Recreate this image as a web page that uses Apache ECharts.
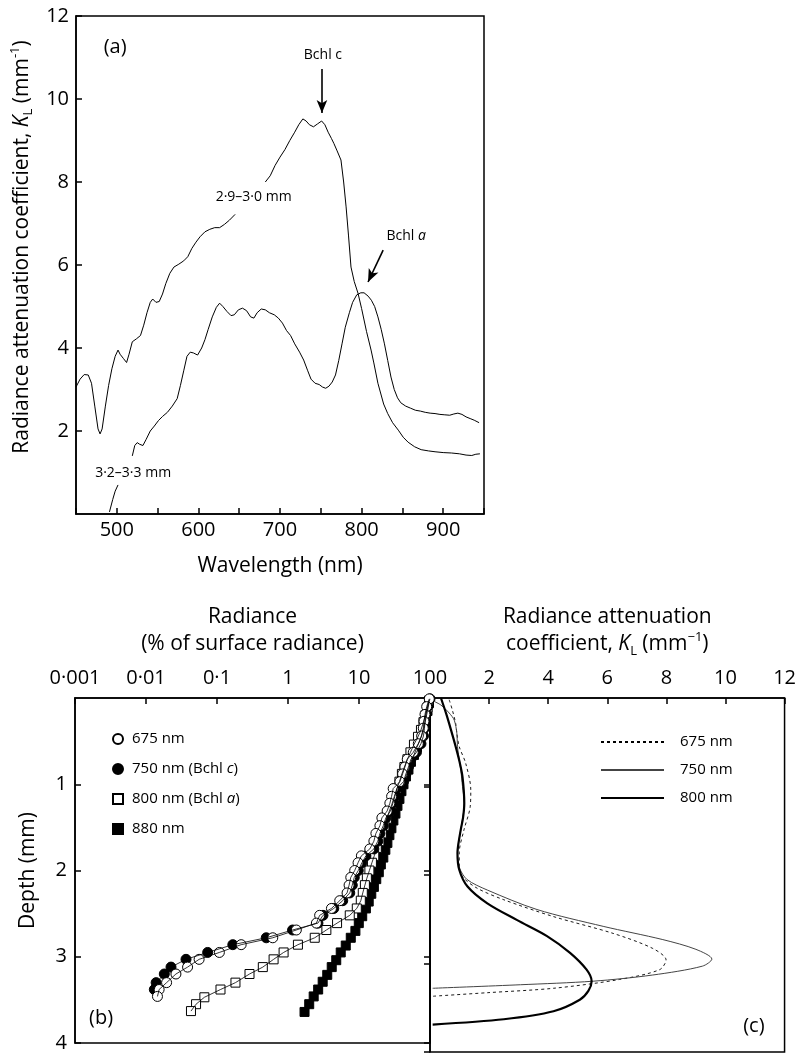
<!DOCTYPE html>
<html>
<head>
<meta charset="utf-8">
<script src="https://cdn.jsdelivr.net/npm/echarts@6.0.0/dist/echarts.min.js"></script>
<style>
  html, body { margin: 0; padding: 0; background: #fff; }
  #chart { width: 799px; height: 1053px; }
</style>
</head>
<body>
<div id="chart"></div>
<script>
// ---- panel (a): attenuation spectra ----
const wl29 = [450, 455, 460, 465, 469, 473, 477, 479.5, 482, 486, 490, 494, 498, 501.5, 504, 508, 512, 515, 519, 524, 529, 533, 537, 541, 544, 548, 552, 556, 560, 565, 570, 576, 582, 587, 592, 597, 602, 608, 614, 620, 626, 632, 638, 645, 660, 682, 688, 694, 700, 706, 712, 718, 723, 728, 732, 736, 741, 746, 751, 755, 759, 763, 766, 770, 774.7, 778, 781, 784, 787, 791, 795.6, 800, 806, 811.6, 815, 820, 827, 832, 838, 845, 851, 857, 865, 873, 882, 890, 900, 910, 920, 928, 935, 940, 945]
const kl29 = [3.06, 3.25, 3.36, 3.35, 3.15, 2.6, 2.05, 1.93, 2.05, 2.6, 3.1, 3.5, 3.8, 3.95, 3.85, 3.75, 3.65, 3.85, 4.15, 4.22, 4.3, 4.55, 4.85, 5.1, 5.18, 5.1, 5.12, 5.3, 5.55, 5.8, 5.95, 6.02, 6.1, 6.2, 6.4, 6.55, 6.68, 6.8, 6.86, 6.9, 6.9, 6.98, 7.08, 7.22, null, 8.0, 8.15, 8.4, 8.6, 8.78, 9.0, 9.2, 9.38, 9.52, 9.47, 9.38, 9.33, 9.4, 9.47, 9.38, 9.2, 9.05, 8.93, 8.75, 8.53, 8.0, 7.4, 6.7, 5.95, 5.6, 5.32, 4.95, 4.4, 3.95, 3.64, 3.15, 2.65, 2.42, 2.2, 2.02, 1.85, 1.73, 1.62, 1.55, 1.52, 1.5, 1.48, 1.47, 1.45, 1.42, 1.41, 1.44, 1.45]

const wl32 = [491, 495, 498, 501.5, 510, 519, 522, 525, 528, 532, 536, 541, 546, 551, 556, 562, 568, 574, 578, 582, 586, 590, 594, 599, 604, 608, 612, 617, 622, 626, 630, 635, 640, 644, 649, 654, 659, 664, 668, 672, 677, 682, 687, 693, 698, 703, 708, 713, 718, 724, 729, 734, 738, 743, 748, 752, 756, 760, 764, 768, 772, 776, 780, 785, 789, 794, 799, 803, 808, 812, 816, 820, 824, 828, 832, 836, 840, 844, 848, 854, 860, 866, 872, 878, 884, 890, 896, 902, 908, 913, 918, 923, 928, 933, 938, 944]
const kl32 = [0.05, 0.35, 0.55, 0.7, null, 1.4, 1.65, 1.72, 1.68, 1.65, 1.8, 2.0, 2.12, 2.25, 2.35, 2.45, 2.6, 2.78, 3.1, 3.45, 3.8, 3.9, 3.88, 3.83, 4.0, 4.2, 4.45, 4.75, 4.98, 5.08, 5.0, 4.88, 4.78, 4.8, 4.92, 4.96, 4.9, 4.75, 4.72, 4.85, 4.94, 4.92, 4.85, 4.8, 4.72, 4.6, 4.42, 4.3, 4.1, 3.9, 3.71, 3.45, 3.25, 3.15, 3.12, 3.06, 3.03, 3.08, 3.18, 3.35, 3.7, 4.1, 4.5, 4.85, 5.1, 5.28, 5.33, 5.33, 5.25, 5.15, 5.0, 4.75, 4.45, 4.1, 3.7, 3.3, 3.0, 2.8, 2.68, 2.6, 2.55, 2.5, 2.48, 2.45, 2.43, 2.42, 2.4, 2.39, 2.38, 2.41, 2.43, 2.4, 2.34, 2.3, 2.26, 2.2]

// ---- panel (b): radiance (% of surface) vs depth (mm) ----
const depth675 = [0.01, 0.10, 0.19, 0.27, 0.35, 0.44, 0.53, 0.63, 0.71, 0.80, 0.88, 0.97, 1.05, 1.14, 1.22, 1.31, 1.39, 1.48, 1.57, 1.66, 1.75, 1.83, 1.91, 2.00, 2.08, 2.17, 2.26, 2.35, 2.44, 2.52, 2.61, 2.69, 2.78, 2.86, 2.95, 3.03, 3.12, 3.20, 3.30, 3.38, 3.46]
const rad675 = [97.7, 89.8, 85, 82.3, 80.4, 76.3, 68.4, 58.1, 47.8, 44.3, 41.1, 37.7, 30.3, 28.8, 27.2, 24.9, 21.0, 19.7, 17.3, 16.2, 14.2, 10.8, 9.7, 8.7, 7.66, 7.25, 6.79, 5.35, 4.09, 2.79, 2.51, 1.31, 0.61, 0.219, 0.108, 0.056, 0.0385, 0.0264, 0.0195, 0.0153, 0.0145]
const depth750 = [0.01, 0.10, 0.19, 0.27, 0.35, 0.44, 0.53, 0.63, 0.71, 0.80, 0.88, 0.97, 1.05, 1.14, 1.22, 1.31, 1.39, 1.48, 1.57, 1.66, 1.75, 1.83, 1.91, 2.00, 2.08, 2.17, 2.26, 2.35, 2.44, 2.52, 2.61, 2.69, 2.78, 2.86, 2.95, 3.03, 3.12, 3.20, 3.30, 3.38]
const rad750 = [100, 92.2, 87.9, 85.0, 83.6, 80.9, 74.6, 64.4, 53.9, 49.7, 45.8, 42.3, 34.2, 32.0, 30.0, 27.7, 23.9, 22.0, 19.7, 18.4, 16.2, 12.5, 11.0, 9.77, 8.58, 8.04, 7.41, 5.90, 4.41, 3.11, 2.64, 1.16, 0.494, 0.167, 0.0739, 0.0366, 0.0225, 0.0181, 0.0139, 0.0131]
const depth800 = [0.03, 0.11, 0.20, 0.28, 0.37, 0.45, 0.54, 0.63, 0.71, 0.80, 0.88, 0.97, 1.05, 1.14, 1.23, 1.31, 1.40, 1.48, 1.57, 1.66, 1.74, 1.83, 1.91, 2.00, 2.09, 2.17, 2.26, 2.35, 2.44, 2.52, 2.61, 2.69, 2.78, 2.86, 2.95, 3.03, 3.12, 3.20, 3.30, 3.38, 3.47, 3.55, 3.63]
const rad800 = [96.8, 92.2, 86.3, 80.9, 74.6, 67.7, 59.4, 53.0, 48.1, 43.6, 40.2, 37.1, 34.2, 31.5, 29.1, 26.8, 24.7, 22.8, 21.0, 19.4, 17.8, 16.4, 15.2, 14.0, 12.9, 12.1, 11.3, 10.6, 9.31, 7.41, 4.91, 3.47, 2.38, 1.38, 0.867, 0.627, 0.442, 0.287, 0.182, 0.112, 0.0664, 0.0507, 0.043]
const depth880 = [0.06, 0.15, 0.23, 0.32, 0.40, 0.49, 0.57, 0.66, 0.74, 0.83, 0.91, 1.00, 1.08, 1.17, 1.25, 1.34, 1.42, 1.51, 1.59, 1.68, 1.76, 1.85, 1.93, 2.02, 2.10, 2.19, 2.27, 2.36, 2.44, 2.53, 2.61, 2.70, 2.78, 2.87, 2.95, 3.04, 3.12, 3.21, 3.29, 3.38, 3.46, 3.55, 3.64]
const rad880 = [96.8, 92.2, 87.9, 83.6, 78.3, 72.2, 65.5, 59.4, 53.9, 49.7, 45.8, 42.3, 39.6, 37.1, 34.8, 32.6, 30.5, 28.6, 26.8, 25.1, 23.5, 22.0, 20.3, 19.0, 17.5, 16.2, 14.9, 13.7, 12.5, 11.1, 9.93, 8.9, 7.66, 6.51, 5.53, 4.78, 4.13, 3.57, 3.08, 2.66, 2.30, 1.99, 1.71]
const radTickLabels = ['0·001', '0·01', '0·1', '1', '10', '100']

// ---- panel (c): attenuation coefficient vs depth ----
const kc675 = [0.65, 0.76, 0.87, 0.91, 0.99, 1.21, 1.38, 1.36, 1.15, 0.99, 0.99, 1.10, 1.6, 2.50, 4.18, 6.20, 7.54, 7.99, 7.77, 6.42, 4.18, 1.94, 0.09]
const dc675 = [0.02, 0.14, 0.29, 0.40, 0.55, 0.74, 1.04, 1.23, 1.49, 1.75, 1.90, 2.02, 2.15, 2.28, 2.47, 2.66, 2.83, 2.96, 3.07, 3.18, 3.28, 3.33, 3.37]
const kc750 = [0.15, 0.37, 0.65, 0.82, 0.91, 0.93, 1.04, 1.10, 1.16, 1.04, 0.93, 1.0, 1.25, 1.94, 3.62, 5.86, 7.88, 9.0, 9.54, 9.22, 7.54, 5.52, 3.06, 0.09]
const dc750 = [0.04, 0.08, 0.17, 0.25, 0.40, 0.55, 0.81, 1.00, 1.19, 1.49, 1.75, 1.92, 2.05, 2.17, 2.39, 2.58, 2.73, 2.84, 2.95, 3.03, 3.13, 3.20, 3.24, 3.28]
const kc800 = [0.37, 0.55, 0.71, 0.87, 1.0, 1.10, 1.16, 1.12, 1.04, 0.96, 0.93, 0.99, 1.27, 1.94, 2.95, 3.96, 4.74, 5.30, 5.47, 5.36, 5.07, 4.18, 2.50, 0.09]
const dc800 = [0.0, 0.18, 0.36, 0.55, 0.72, 0.89, 1.19, 1.35, 1.49, 1.65, 1.75, 1.94, 2.13, 2.32, 2.51, 2.69, 2.88, 3.07, 3.20, 3.31, 3.41, 3.54, 3.63, 3.69]

const FONT = 'Open Sans'
const TICK = 20
const TITLE = 21
const zip = (a, b) => a.map((v, i) => [v, b[i]])

const axisBase = {
  axisLine: { lineStyle: { color: '#000', width: 1.5 } },
  axisTick: { inside: true, length: 6, lineStyle: { color: '#000', width: 1.5 } },
  axisLabel: { color: '#000', fontSize: TICK, fontFamily: FONT },
  splitLine: { show: false },
  nameTextStyle: { color: '#000', fontSize: TITLE, fontFamily: FONT }
}
const rich = {
  i: { fontStyle: 'italic', fontSize: TITLE, fontFamily: FONT, color: '#000' },
  sub: { fontSize: 13, fontFamily: FONT, verticalAlign: 'bottom', color: '#000' },
  sup: { fontSize: 13, fontFamily: FONT, verticalAlign: 'top', color: '#000' }
}

const chart = echarts.init(document.getElementById('chart'), null, { renderer: 'canvas' })

const option = {
  animation: false,
  backgroundColor: '#fff',
  textStyle: { fontFamily: FONT, color: '#000' },
  grid: [
    { left: 76, top: 16, width: 408, height: 498, show: true, borderColor: '#000', borderWidth: 1.5 },
    { left: 75, top: 698, width: 355, height: 354, show: true, borderColor: '#000', borderWidth: 1.5 },
    { left: 430, top: 698, width: 356, height: 354, show: true, borderColor: '#000', borderWidth: 1.5 }
  ],
  xAxis: [
    Object.assign({}, axisBase, {
      gridIndex: 0, type: 'value', min: 450, max: 950, interval: 50,
      axisLabel: Object.assign({}, axisBase.axisLabel, { margin: 6, formatter: v => (v % 100 === 0 ? String(v) : '') }),
      name: 'Wavelength (nm)', nameLocation: 'middle', nameGap: 42
    }),
    Object.assign({}, axisBase, {
      gridIndex: 1, type: 'log', logBase: 10, min: 0.001, max: 100, position: 'top',
      axisLabel: Object.assign({}, axisBase.axisLabel, { margin: 10, formatter: v => radTickLabels[Math.round(Math.log10(v)) + 3] }),
      name: 'Radiance\n(% of surface radiance)', nameLocation: 'middle', nameGap: 40,
      nameTextStyle: Object.assign({}, axisBase.nameTextStyle, { lineHeight: 27 })
    }),
    Object.assign({}, axisBase, {
      gridIndex: 2, type: 'value', min: 0, max: 12, interval: 2, position: 'top',
      axisLabel: Object.assign({}, axisBase.axisLabel, { margin: 10, showMinLabel: false }),
      name: 'Radiance attenuation\ncoefficient, {i|K}{sub|L} (mm{sup|−1})', nameLocation: 'middle', nameGap: 40,
      nameTextStyle: Object.assign({}, axisBase.nameTextStyle, { lineHeight: 27, rich: rich })
    })
  ],
  yAxis: [
    Object.assign({}, axisBase, {
      gridIndex: 0, type: 'value', min: 0, max: 12, interval: 2,
      axisLabel: Object.assign({}, axisBase.axisLabel, { margin: 7, showMinLabel: false }),
      name: 'Radiance attenuation coefficient, {i|K}{sub|L} (mm{sup|-1})', nameLocation: 'middle', nameRotate: 90, nameGap: 33,
      nameTextStyle: Object.assign({}, axisBase.nameTextStyle, { lineHeight: 26, rich: rich, padding: [0, 0, 0, 36] })
    }),
    Object.assign({}, axisBase, {
      gridIndex: 1, type: 'value', min: 0, max: 4, interval: 1, inverse: true,
      axisLabel: Object.assign({}, axisBase.axisLabel, { margin: 8, showMinLabel: false }),
      name: 'Depth (mm)', nameLocation: 'middle', nameRotate: 90, nameGap: 36
    }),
    Object.assign({}, axisBase, {
      gridIndex: 1, type: 'value', min: 0, max: 4, interval: 1, inverse: true, position: 'right',
      axisLabel: { show: false }
    }),
    Object.assign({}, axisBase, {
      gridIndex: 2, type: 'value', min: 0, max: 4, interval: 1, inverse: true, position: 'right',
      axisLabel: { show: false }
    })
  ],
  legend: [
    {
      left: 112, top: 731, padding: 0, orient: 'vertical', itemWidth: 10, itemHeight: 10, itemGap: 14,
      textStyle: { fontSize: 15, fontFamily: FONT, color: '#000', lineHeight: 16, padding: [0, 0, 0, 4],
        rich: { i: { fontStyle: 'italic', fontSize: 15, fontFamily: FONT, color: '#000' } } },
      formatter: n => n.replace('Bchl c', 'Bchl {i|c}').replace('Bchl a', 'Bchl {i|a}'),
      data: ['675 nm', '750 nm (Bchl c)', '800 nm (Bchl a)', '880 nm'],
      selectedMode: false
    },
    {
      left: 600, top: 734, padding: 0, orient: 'vertical', itemWidth: 63, itemHeight: 10, itemGap: 12,
      itemStyle: { opacity: 0 },
      textStyle: { fontSize: 15, fontFamily: FONT, color: '#000', lineHeight: 16, padding: [0, 0, 0, 11] },
      data: ['675 nm ', '750 nm ', '800 nm '],
      selectedMode: false
    }
  ],
  series: [
    {
      type: 'line', xAxisIndex: 0, yAxisIndex: 0, showSymbol: false, connectNulls: false,
      lineStyle: { color: '#000', width: 1 }, data: zip(wl29, kl29),
      markLine: {
        silent: true, symbol: ['none', 'arrow'], symbolSize: [8, 13], label: { show: false },
        lineStyle: { color: '#000', width: 1.6, type: 'solid' },
        data: [[{ coord: [751.4, 10.72] }, { coord: [751.4, 9.66] }]]
      }
    },
    {
      type: 'line', xAxisIndex: 0, yAxisIndex: 0, showSymbol: false, connectNulls: false,
      lineStyle: { color: '#000', width: 1 }, data: zip(wl32, kl32),
      markLine: {
        silent: true, symbol: ['none', 'arrow'], symbolSize: [8, 13], label: { show: false },
        lineStyle: { color: '#000', width: 1.6, type: 'solid' },
        data: [[{ coord: [826.4, 6.36] }, { coord: [807.9, 5.59] }]]
      }
    },
    // panel (b) connecting lines
    { type: 'line', xAxisIndex: 1, yAxisIndex: 1, showSymbol: false, lineStyle: { color: '#000', width: 0.8 }, data: zip(rad880, depth880) },
    { type: 'line', xAxisIndex: 1, yAxisIndex: 1, showSymbol: false, lineStyle: { color: '#000', width: 0.8 }, data: zip(rad800, depth800) },
    { type: 'line', xAxisIndex: 1, yAxisIndex: 1, showSymbol: false, lineStyle: { color: '#000', width: 0.8 }, data: zip(rad750, depth750) },
    { type: 'line', xAxisIndex: 1, yAxisIndex: 1, showSymbol: false, lineStyle: { color: '#000', width: 0.8 }, data: zip(rad675, depth675) },
    // panel (b) markers
    { name: '880 nm', type: 'scatter', xAxisIndex: 1, yAxisIndex: 1, symbol: 'rect', symbolSize: 9,
      itemStyle: { color: '#000', borderColor: '#000', borderWidth: 1, opacity: 1 }, data: zip(rad880, depth880) },
    { name: '800 nm (Bchl a)', type: 'scatter', xAxisIndex: 1, yAxisIndex: 1, symbol: 'rect', symbolSize: 9,
      itemStyle: { color: '#fff', borderColor: '#000', borderWidth: 1, opacity: 1 }, data: zip(rad800, depth800) },
    { name: '750 nm (Bchl c)', type: 'scatter', xAxisIndex: 1, yAxisIndex: 1, symbol: 'circle', symbolSize: 10,
      itemStyle: { color: '#000', borderColor: '#000', borderWidth: 1, opacity: 1 }, data: zip(rad750, depth750) },
    { name: '675 nm', type: 'scatter', xAxisIndex: 1, yAxisIndex: 1, symbol: 'circle', symbolSize: 10,
      itemStyle: { color: '#fff', borderColor: '#000', borderWidth: 1, opacity: 1 }, data: zip(rad675, depth675) },
    // panel (c)
    { name: '675 nm ', type: 'line', xAxisIndex: 2, yAxisIndex: 3, showSymbol: false, symbol: 'none', smooth: 0.3,
      color: '#000', lineStyle: { color: '#000', width: 0.9, type: [3, 3] }, data: zip(kc675, dc675) },
    { name: '750 nm ', type: 'line', xAxisIndex: 2, yAxisIndex: 3, showSymbol: false, symbol: 'none', smooth: 0.3,
      color: '#444', lineStyle: { color: '#444', width: 1 }, data: zip(kc750, dc750) },
    { name: '800 nm ', type: 'line', xAxisIndex: 2, yAxisIndex: 3, showSymbol: false, symbol: 'none', smooth: 0.3,
      color: '#000', lineStyle: { color: '#000', width: 2.2 }, data: zip(kc800, dc800) }
  ]
}
chart.setOption(option)

// text annotations placed in data coordinates
const notes = [
  { axes: [0, 0], at: [752.6, 11.06], text: 'Bchl c', size: 14 },
  { axes: [0, 0], at: [854.7, 6.70], text: 'Bchl {i|a}', size: 14 },
  { axes: [0, 0], at: [667.7, 7.64], text: '2·9–3·0 mm', size: 14 },
  { axes: [0, 0], at: [520, 0.99], text: '3·2–3·3 mm', size: 14 },
  { axes: [0, 0], at: [498, 11.25], text: '(a)', size: 20 },
  { axes: [1, 1], at: [0.00233, 3.71], text: '(b)', size: 20 },
  { axes: [2, 3], at: [10.96, 3.71], text: '(c)', size: 20 }
]
chart.setOption({
  graphic: notes.map(n => {
    const p = chart.convertToPixel({ xAxisIndex: n.axes[0], yAxisIndex: n.axes[1] }, n.at)
    return {
      type: 'text', x: p[0], y: p[1], silent: true,
      style: { text: n.text, fontSize: n.size, fontFamily: FONT, fill: '#000', align: 'center', verticalAlign: 'middle',
        rich: { i: { fontStyle: 'italic', fontSize: n.size, fontFamily: FONT, fill: '#000' } } }
    }
  })
})
</script>
</body>
</html>
